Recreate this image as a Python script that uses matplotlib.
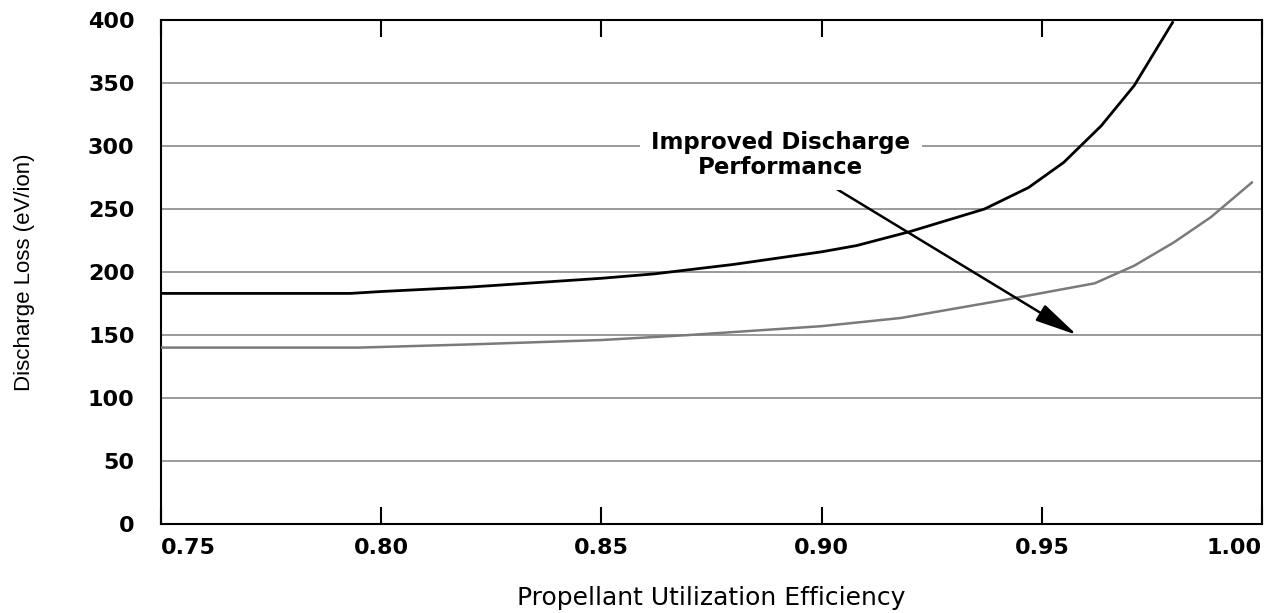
import matplotlib
matplotlib.use("Agg")
import matplotlib.pyplot as plt

# curva actual (negra)
base_x = [0.75, 0.793, 0.80, 0.82, 0.85, 0.862, 0.88, 0.90, 0.908, 0.92,
          0.937, 0.947, 0.955, 0.9635, 0.971, 0.9797]
base_y = [183, 183, 184.5, 188, 195, 198.5, 206, 216, 221, 232,
          250, 267, 287, 316, 348, 398]

# curva mejorada (gris)
impr_x = [0.75, 0.795, 0.82, 0.85, 0.87, 0.90, 0.918, 0.941, 0.962,
          0.971, 0.980, 0.9884, 0.9977]
impr_y = [140, 140, 142.5, 146, 150, 157, 163.5, 177.5, 191,
          205, 223.5, 243.5, 271]

xticks = [0.75, 0.80, 0.85, 0.90, 0.95, 1.00]
yticks = [0, 50, 100, 150, 200, 250, 300, 350, 400]

FONT = "DejaVu Sans"

fig = plt.figure(figsize=(12.72, 6.13), dpi=100)
ax = fig.add_axes([0.1266, 0.1452, 0.8655, 0.8222])

for v in yticks[1:-1]:
    ax.axhline(v, color="#9a9a9a", lw=1.4, zorder=1)

ax.plot(base_x, base_y, color="black", lw=2.0, zorder=3)
ax.plot(impr_x, impr_y, color="#7a7a7a", lw=1.8, zorder=3)

ax.annotate("", xy=(0.958, 150), xytext=(0.901, 271),
            arrowprops=dict(arrowstyle="-|>,head_length=1.3,head_width=0.28",
                            mutation_scale=20, color="black", lw=1.8,
                            shrinkA=0, shrinkB=0), zorder=4)
ax.text(0.8907, 293, "Improved Discharge\nPerformance", ha="center", va="center",
        fontsize=16.5, fontweight="bold", family=FONT, linespacing=1.1,
        zorder=5, bbox=dict(boxstyle="square,pad=0.5", fc="white", ec="none"))

ax.set_xlim(0.75, 1.00)
ax.set_ylim(0, 400)
ax.set_xticks(xticks)
ax.set_xticklabels([f"{t:.2f}" for t in xticks], fontsize=16,
                   fontweight="bold", family=FONT)
labs = ax.get_xticklabels()
labs[0].set_ha("left")
labs[-1].set_ha("right")
ax.set_yticks(yticks)
ax.set_yticklabels([str(t) for t in yticks], fontsize=16,
                   fontweight="bold", family=FONT)
ax.tick_params(axis="x", direction="in", length=12, width=1.5, top=True, pad=10)
ax.tick_params(axis="y", length=0, pad=19)

for s in ax.spines.values():
    s.set_linewidth(1.5)
    s.set_color("black")

ax.set_xlabel("Propellant Utilization Efficiency", fontsize=18,
              family=FONT, labelpad=20)
ax.set_ylabel("Discharge Loss (eV/ion)", fontsize=16,
              family="Liberation Sans", labelpad=38)

fig.savefig("out.png", dpi=100, facecolor="white")
